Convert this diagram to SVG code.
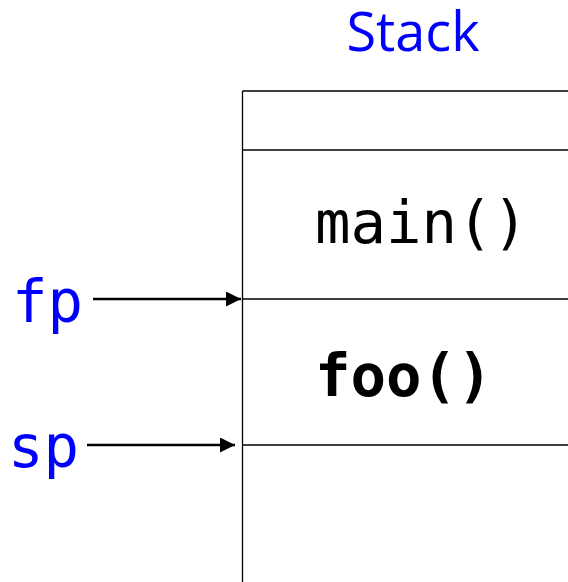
<svg xmlns="http://www.w3.org/2000/svg" width="568" height="582" viewBox="0 0 568 582">
  <style>
    .frame { stroke: #000; stroke-width: 1.3; fill: none; }
    .mono { font-family: "DejaVu Sans Mono", "Liberation Mono", monospace; font-size: 59px; }
    .ptr { fill: #0000ff; }
    .arrow { stroke: #000; stroke-width: 2.5; fill: none; marker-end: url(#head); }
  </style>
  <defs>
    <marker id="head" viewBox="0 0 10 10" refX="10" refY="5" markerWidth="6.4" markerHeight="6" markerUnits="strokeWidth" orient="auto">
      <path d="M0,0 L10,5 L0,10 z" fill="#000"/>
    </marker>
  </defs>

  <g id="title">
    <text x="413" y="51" text-anchor="middle" font-family="'Open Sans', 'Noto Sans', sans-serif" font-size="54" font-weight="500" fill="#0000ff">Stack</text>
  </g>

  <g id="stack">
    <line class="frame" x1="242.5" y1="91" x2="242.5" y2="582"/>
    <line class="frame" x1="242.5" y1="91" x2="568" y2="91"/>
    <line class="frame" x1="242.5" y1="150" x2="568" y2="150"/>
    <line class="frame" x1="242.5" y1="299" x2="568" y2="299"/>
    <line class="frame" x1="242.5" y1="445" x2="568" y2="445"/>
  </g>

  <g id="frame-main">
    <text class="mono" x="315" y="243">main()</text>
  </g>

  <g id="frame-foo">
    <text class="mono" x="315" y="396" font-weight="bold">foo()</text>
  </g>

  <g id="fp">
    <text class="mono ptr" x="12" y="322">fp</text>
  </g>

  <g id="sp">
    <text class="mono ptr" x="8" y="467">sp</text>
  </g>

  <g id="connectors">
    <line class="arrow" x1="93" y1="299" x2="241" y2="299"/>
    <line class="arrow" x1="87" y1="445" x2="235" y2="445"/>
  </g>
</svg>
